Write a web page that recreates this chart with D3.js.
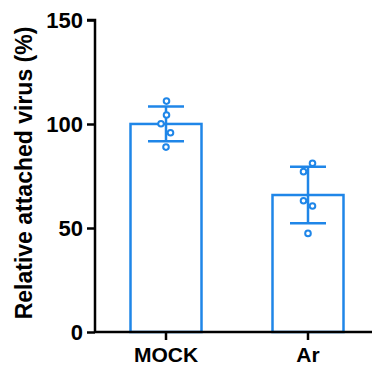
<!DOCTYPE html>
<html>
<head>
<meta charset="utf-8">
<script src="https://cdn.jsdelivr.net/npm/d3@7"></script>
<style>
  body { margin: 0; background: #fff; }
  text { font-family: "Liberation Sans", Arial, sans-serif; font-weight: bold; }
</style>
</head>
<body>
<div id="chart"></div>
<script>
// groups and replicate values
const groups = ["MOCK", "Ar"];
const mockValues = [111.0, 104.3, 100.1, 95.8, 88.9];
const arValues = [81.1, 77.1, 63.1, 60.6, 47.4];
// horizontal scatter of replicate dots, in px
const mockJitter = [0.5, 0.5, -5, 4.5, 0];
const arJitter = [4.5, -4.5, -4.5, 4.5, 0];
const yTicks = [0, 50, 100, 150];

const blue = "#1f86e8";
const W = 372, H = 370;
const margin = { left: 95, top: 20, bottom: 38 };

const data = [
  { name: groups[0], values: mockValues, jitter: mockJitter },
  { name: groups[1], values: arValues, jitter: arJitter }
].map(d => ({ ...d, mean: d3.mean(d.values), sd: d3.deviation(d.values) }));

const svg = d3.select("#chart").append("svg")
    .attr("width", W)
    .attr("height", H);

const y = d3.scaleLinear([0, 150], [H - margin.bottom, margin.top]);
const x = d3.scaleBand(groups, [margin.left, 379]).paddingInner(0.5).paddingOuter(0.25);

// bars
svg.append("g")
    .selectAll("rect")
    .data(data)
    .join("rect")
    .attr("x", d => x(d.name))
    .attr("y", d => y(d.mean))
    .attr("width", x.bandwidth())
    .attr("height", d => y(0) - y(d.mean))
    .attr("fill", "none")
    .attr("stroke", blue)
    .attr("stroke-width", 2.5);

// error bars (mean ± SD)
const err = svg.append("g")
    .attr("stroke", blue)
    .attr("stroke-width", 2.5)
    .selectAll("g")
    .data(data)
    .join("g")
    .attr("transform", d => `translate(${x(d.name) + x.bandwidth() / 2},0)`);

err.append("line")
    .attr("y1", d => y(d.mean + d.sd))
    .attr("y2", d => y(d.mean - d.sd));
err.append("line")
    .attr("x1", -18).attr("x2", 18)
    .attr("y1", d => y(d.mean + d.sd))
    .attr("y2", d => y(d.mean + d.sd));
err.append("line")
    .attr("x1", -18).attr("x2", 18)
    .attr("y1", d => y(d.mean - d.sd))
    .attr("y2", d => y(d.mean - d.sd));

// replicate dots
err.selectAll("circle")
    .data(d => d.values.map((v, i) => ({ v, dx: d.jitter[i] })))
    .join("circle")
    .attr("cx", d => d.dx)
    .attr("cy", d => y(d.v))
    .attr("r", 2.8)
    .attr("fill", "#fff")
    .attr("stroke-width", 2);

// y axis
const yAxis = svg.append("g")
    .attr("transform", `translate(${margin.left},0)`)
    .call(d3.axisLeft(y).tickValues(yTicks).tickSize(8).tickPadding(4));
yAxis.select(".domain").attr("d", `M-8,${y(150)}H0V${y(0)}`);
yAxis.selectAll("line, path").attr("stroke", "#000").attr("stroke-width", 2.5);
yAxis.selectAll("text").attr("fill", "#000").style("font-size", "22px").attr("dy", "0.36em");

// x axis
const xAxis = svg.append("g")
    .attr("transform", `translate(0,${y(0)})`)
    .call(d3.axisBottom(x).tickSize(8).tickPadding(6));
xAxis.select(".domain").attr("d", `M${margin.left},0H${W}`);
xAxis.selectAll("line, path").attr("stroke", "#000").attr("stroke-width", 2.5);
xAxis.selectAll("text").attr("fill", "#000").style("font-size", "21px").attr("dy", "0.78em");

// y title
svg.append("text")
    .attr("transform", `translate(32,${(23 + 323) / 2}) rotate(-90)`)
    .attr("text-anchor", "middle")
    .style("font-size", "23px")
    .attr("fill", "#000")
    .text("Relative attached virus (%)");
</script>
</body>
</html>
